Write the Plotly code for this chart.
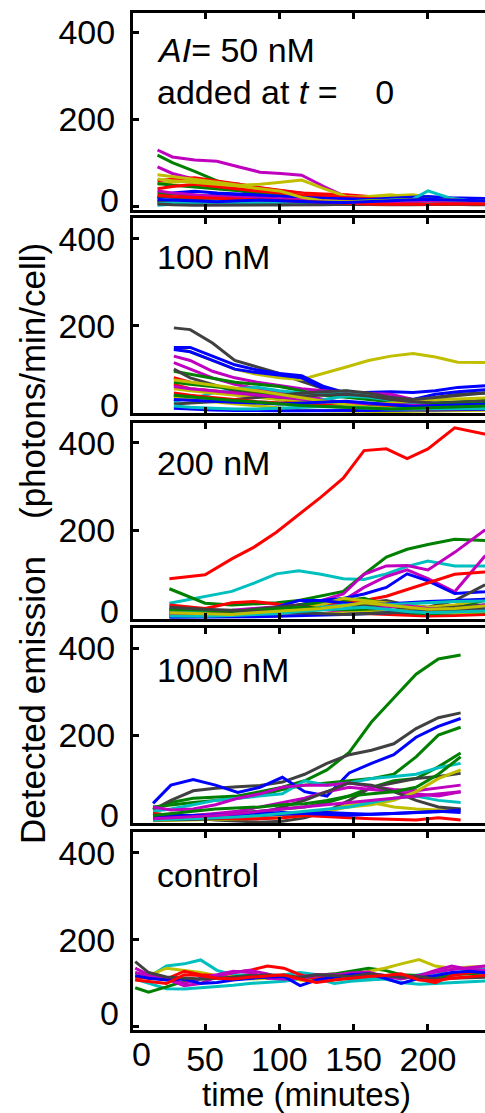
import plotly.graph_objects as go

# ---- time points (minutes) for each condition ----
t_50 = [18, 28, 43, 58, 73, 87, 101, 115, 130, 145, 160, 175, 190, 200, 215, 230, 245]
t_100 = [29, 40, 55, 70, 85, 100, 115, 130, 145, 160, 175, 190, 205, 220, 235, 250]
t_200 = [26, 50, 68, 83, 98, 113, 128, 143, 157, 172, 186, 200, 218, 238, 255]
t_1000 = [15, 27, 42, 57, 72, 87, 102, 117, 132, 147, 162, 177, 192, 207, 222]
t_ctrl = [3, 12, 24, 36, 47, 58, 69, 80, 92, 103, 114, 125, 137, 148, 160, 171, 182,
          194, 205, 216, 228, 240, 252]

# ---- per-cell colour codes (MATLAB-style colour order) ----
colors_50 = ["m", "g", "m", "r", "y", "y", "g", "r", "b", "b", "k", "k", "c", "c", "k",
             "g", "m", "y", "r", "b"]
cells_50 = [
    [129, 113, 106, 103, 90, 78, 75, 71, 45, 21, 22, 20, 24, 20, 18, 15, 14],
    [117, 100, 80, 58, 38, 20, 12, 15, 18, 20, 15, 13, 16, 18, 15, 12, 10],
    [90, 75, 62, 55, 50, 42, 35, 30, 22, 18, 14, 12, 15, 14, 12, 10, 9],
    [58, 62, 65, 58, 50, 42, 36, 30, 28, 26, 22, 18, 14, 14, 12, 10, 9],
    [72, 68, 62, 55, 48, 50, 55, 60, 40, 22, 20, 24, 26, 20, 16, 14, 12],
    [50, 55, 58, 52, 45, 38, 30, 25, 20, 18, 22, 26, 20, 15, 14, 12, 10],
    [52, 48, 44, 40, 35, 30, 25, 22, 18, 15, 14, 16, 18, 20, 17, 14, 12],
    [40, 45, 50, 44, 38, 34, 30, 25, 22, 20, 18, 15, 12, 10, 9, 8, 8],
    [18, 30, 34, 30, 28, 25, 22, 20, 18, 16, 15, 18, 20, 22, 19, 18, 17],
    [8, 12, 20, 26, 24, 22, 15, 12, 12, 14, 14, 16, 18, 20, 15, 14, 14],
    [22, 20, 16, 14, 12, 10, 9, 8, 8, 8, 9, 10, 12, 14, 13, 12, 10],
    [12, 10, 8, 6, 5, 5, 4, 4, 4, 5, 6, 6, 8, 10, 9, 8, 8],
    [6, 8, 10, 12, 10, 8, 7, 6, 8, 10, 12, 14, 16, 35, 18, 12, 8],
    [2, 4, 5, 6, 5, 4, 3, 4, 5, 6, 5, 4, 4, 6, 5, 4, 4],
    [5, 3, 2, 2, 3, 3, 2, 2, 3, 4, 3, 3, 3, 4, 4, 3, 3],
    [30, 28, 25, 22, 18, 15, 14, 12, 10, 10, 12, 14, 15, 16, 14, 12, 10],
    [35, 30, 26, 22, 20, 18, 16, 14, 12, 10, 9, 8, 10, 12, 10, 9, 8],
    [62, 58, 54, 50, 46, 40, 34, 20, 12, 10, 12, 14, 15, 16, 14, 12, 11],
    [25, 22, 20, 18, 16, 14, 12, 10, 8, 6, 5, 4, 3, 4, 5, 5, 5],
    [15, 14, 12, 10, 12, 14, 12, 10, 9, 8, 10, 12, 14, 16, 14, 12, 12],
]

colors_100 = ["k", "y", "b", "b", "m", "m", "g", "r", "r", "c", "c", "y", "y", "k", "k",
              "g", "b", "m", "r", "y", "c", "b", "g"]
cells_100 = [
    [195, 191, 160, 120, 105, 90, 72, 55, 45, 38, 30, 25, 35, 42, 46, 48],
    [148, 140, 120, 100, 88, 80, 76, 90, 105, 120, 130, 136, 128, 116, 115, 115],
    [150, 150, 130, 110, 98, 90, 85, 60, 45, 46, 48, 46, 50, 58, 62, 64],
    [145, 140, 120, 100, 92, 86, 80, 55, 40, 38, 36, 30, 42, 48, 52, 55],
    [130, 120, 95, 80, 70, 62, 55, 50, 46, 44, 42, 30, 20, 18, 20, 22],
    [115, 100, 80, 65, 55, 48, 40, 30, 22, 18, 16, 14, 15, 16, 18, 20],
    [95, 88, 80, 70, 65, 60, 50, 40, 35, 30, 25, 20, 22, 25, 28, 30],
    [80, 70, 62, 55, 45, 38, 30, 25, 20, 16, 14, 12, 14, 16, 18, 18],
    [65, 55, 50, 45, 40, 30, 22, 15, 12, 10, 8, 8, 10, 12, 12, 12],
    [40, 30, 45, 55, 58, 50, 45, 42, 50, 40, 30, 20, 15, 16, 18, 18],
    [25, 35, 30, 28, 25, 22, 20, 30, 38, 35, 28, 22, 18, 20, 22, 22],
    [55, 50, 45, 40, 35, 30, 28, 24, 20, 18, 22, 28, 30, 32, 34, 35],
    [35, 30, 25, 20, 15, 10, 6, 4, 3, 2, 2, 3, 4, 5, 6, 6],
    [100, 80, 65, 50, 40, 35, 38, 40, 42, 38, 30, 25, 22, 24, 26, 28],
    [20, 22, 25, 30, 35, 40, 45, 48, 50, 45, 35, 30, 35, 40, 44, 46],
    [70, 65, 60, 55, 48, 40, 32, 26, 22, 20, 18, 16, 18, 20, 22, 22],
    [10, 8, 6, 5, 4, 4, 4, 5, 5, 5, 6, 6, 6, 7, 8, 8],
    [60, 55, 50, 45, 40, 35, 30, 26, 22, 20, 18, 16, 15, 14, 14, 14],
    [45, 40, 35, 30, 25, 22, 20, 18, 15, 12, 10, 8, 8, 9, 10, 10],
    [75, 70, 64, 58, 50, 42, 34, 26, 18, 12, 10, 10, 12, 14, 15, 16],
    [15, 12, 10, 8, 8, 10, 12, 14, 12, 10, 8, 8, 9, 10, 10, 10],
    [30, 28, 26, 24, 22, 20, 22, 24, 26, 22, 18, 14, 16, 18, 20, 20],
    [40, 36, 32, 28, 24, 20, 16, 14, 12, 10, 8, 10, 12, 14, 16, 16],
]

colors_200 = ["r", "c", "g", "m", "m", "b", "k", "r", "g", "y", "b", "c", "k", "r", "m",
              "g", "y", "b", "k", "c", "y"]
cells_200 = [
    [90, 99, 135, 162, 196, 236, 276, 319, 382, 386, 364, 386, 434, 420, 415],
    [34, 49, 61, 80, 101, 108, 100, 90, 88, 101, 118, 130, 119, 119, 119],
    [67, 34, 30, 32, 35, 40, 50, 61, 100, 139, 157, 168, 180, 177, 175],
    [20, 15, 18, 22, 25, 30, 40, 55, 100, 119, 120, 110, 150, 200, 215],
    [10, 8, 10, 12, 14, 18, 25, 40, 70, 95, 110, 90, 60, 140, 180],
    [10, 8, 10, 12, 20, 30, 40, 45, 55, 70, 101, 85, 56, 60, 65],
    [5, 5, 6, 8, 12, 18, 25, 30, 35, 40, 30, 25, 40, 75, 92],
    [30, 22, 35, 38, 32, 25, 30, 35, 40, 50, 65, 80, 100, 105, 108],
    [15, 12, 10, 15, 20, 30, 35, 40, 45, 30, 20, 18, 25, 40, 50],
    [8, 6, 5, 6, 10, 20, 30, 45, 40, 35, 30, 25, 30, 45, 55],
    [12, 10, 12, 15, 25, 40, 40, 35, 30, 32, 35, 38, 40, 42, 45],
    [18, 15, 12, 10, 10, 12, 25, 30, 28, 30, 32, 35, 38, 40, 40],
    [12, 10, 15, 20, 25, 30, 20, 18, 30, 28, 22, 20, 25, 30, 35],
    [8, 6, 5, 4, 5, 8, 10, 12, 10, 8, 6, 5, 6, 8, 10],
    [5, 4, 3, 4, 6, 8, 10, 15, 20, 25, 28, 22, 18, 30, 40],
    [20, 18, 16, 18, 22, 25, 22, 20, 18, 15, 12, 10, 12, 14, 16],
    [3, 3, 4, 5, 6, 8, 10, 12, 14, 15, 16, 14, 12, 15, 18],
    [2, 2, 3, 3, 4, 5, 6, 8, 10, 12, 14, 16, 20, 25, 28],
    [25, 20, 18, 16, 14, 12, 10, 8, 10, 12, 14, 16, 18, 20, 22],
    [5, 4, 6, 8, 10, 15, 18, 22, 25, 20, 15, 12, 14, 16, 18],
    [12, 10, 8, 12, 15, 18, 22, 28, 35, 30, 25, 20, 22, 28, 32],
]

colors_1000 = ["g", "k", "b", "g", "g", "c", "k", "m", "m", "y", "y", "k", "r", "b", "b",
               "g", "c", "m"]
cells_1000 = [
    [30, 45, 55, 58, 60, 70, 80, 95, 120, 160, 230, 285, 340, 375, 384],
    [28, 50, 72, 78, 81, 84, 92, 110, 135, 155, 165, 180, 215, 240, 251],
    [43, 85, 98, 85, 68, 80, 103, 70, 60, 113, 135, 155, 195, 220, 238],
    [35, 40, 45, 50, 55, 62, 75, 85, 90, 95, 100, 110, 150, 200, 218],
    [10, 12, 15, 18, 22, 25, 30, 35, 45, 60, 80, 95, 100, 127, 159],
    [25, 30, 40, 50, 55, 60, 65, 95, 85, 90, 100, 105, 110, 125, 135],
    [20, 15, 10, 5, 2, 0, 2, 10, 25, 50, 80, 90, 100, 105, 112],
    [35, 28, 30, 40, 55, 65, 80, 85, 85, 90, 82, 75, 72, 78, 85],
    [10, 12, 15, 20, 25, 35, 45, 55, 70, 80, 75, 70, 65, 60, 70],
    [5, 6, 8, 10, 12, 15, 18, 20, 25, 35, 40, 50, 70, 100, 120],
    [3, 4, 5, 5, 6, 8, 10, 15, 25, 40, 45, 35, 30, 28, 30],
    [5, 5, 6, 8, 10, 20, 35, 50, 70, 90, 85, 70, 50, 35, 30],
    [20, 15, 12, 10, 8, 8, 10, 15, 12, 10, 8, 6, 5, 10, 5],
    [10, 12, 14, 16, 18, 20, 22, 20, 18, 16, 18, 20, 22, 24, 28],
    [15, 15, 15, 15, 15, 16, 18, 20, 22, 20, 18, 20, 22, 25, 22],
    [15, 20, 25, 30, 32, 35, 40, 42, 50, 60, 65, 70, 80, 110, 150],
    [5, 6, 8, 10, 12, 15, 20, 25, 30, 35, 45, 55, 60, 50, 45],
    [8, 10, 12, 15, 20, 25, 30, 35, 40, 45, 50, 55, 60, 65, 70],
]

colors_ctrl = ["c", "c", "g", "y", "r", "m", "m", "b", "k", "r"]
cells_ctrl = [
    [110, 100, 88, 87, 90, 92, 96, 100, 102, 105, 110, 112, 100, 105, 108, 110, 102, 98, 100, 102, 104, 106, 108],
    [125, 115, 140, 145, 154, 130, 120, 118, 112, 120, 125, 120, 115, 110, 112, 118, 112, 120, 125, 122, 130, 135, 132],
    [90, 80, 92, 105, 110, 112, 115, 118, 120, 112, 115, 118, 122, 128, 135, 130, 120, 118, 115, 120, 122, 124, 120],
    [120, 118, 135, 130, 125, 118, 115, 110, 112, 118, 108, 104, 110, 120, 128, 135, 145, 155, 140, 135, 138, 140, 142],
    [115, 112, 110, 128, 120, 118, 125, 130, 140, 135, 120, 110, 118, 122, 120, 115, 118, 110, 102, 118, 125, 130, 135],
    [135, 120, 110, 95, 100, 115, 125, 130, 122, 110, 112, 118, 120, 122, 124, 118, 110, 118, 130, 140, 132, 130, 135],
    [125, 118, 112, 100, 112, 120, 128, 125, 112, 110, 115, 120, 118, 124, 126, 114, 112, 118, 126, 132, 136, 140, 145],
    [118, 112, 108, 110, 100, 102, 108, 112, 115, 116, 95, 108, 115, 120, 122, 112, 100, 112, 118, 125, 128, 124, 120],
    [150, 125, 115, 112, 110, 112, 115, 118, 120, 118, 114, 120, 118, 116, 122, 118, 114, 116, 110, 112, 114, 115, 116],
    [108, 104, 100, 120, 118, 112, 110, 114, 118, 120, 110, 102, 108, 112, 116, 118, 122, 108, 106, 112, 116, 120, 122],
]

panel_labels = ["<i>AI</i>= 50 nM", "100 nM", "200 nM", "1000 nM", "control"]
y_ticks = [0, 200, 400]
y_tick_labels = ["", "200", "400"]   # the zero label is placed separately, lifted
x_ticks = [50, 100, 150, 200]
x_tick_labels = ["50", "100", "150", "200"]

PALETTE = {
    "b": "#0000FF", "g": "#008000", "r": "#FF0000", "c": "#00BFBF",
    "m": "#BF00BF", "y": "#BFBF00", "k": "#404040",
}

W, H = 485, 1113
LEFT = 133
FONT = dict(family="Liberation Sans, Arial, sans-serif", size=34, color="black")

# panel frames in pixels (top, bottom) and the y-range each frame spans
frames = [(13, 210), (218, 413), (423, 619), (628, 823), (832, 1030)]
y_ranges = [[-9, 444], [-1, 448], [-2, 445], [-2, 446], [-7, 448]]
x_range = [1.5, 238.4]
# vertical centre (px) of each panel's "0" label
zero_label_y = [200, 405, 611, 815, 1013]

panels = [
    (t_50, cells_50, colors_50),
    (t_100, cells_100, colors_100),
    (t_200, cells_200, colors_200),
    (t_1000, cells_1000, colors_1000),
    (t_ctrl, cells_ctrl, colors_ctrl),
]


def px_x(px):
    return (px - LEFT) / (W - LEFT)


def px_y(py):
    return 1 - py / H


fig = go.Figure()
layout = dict(
    width=W, height=H,
    margin=dict(l=LEFT, r=0, t=0, b=0, autoexpand=False),
    paper_bgcolor="white", plot_bgcolor="white",
    showlegend=False, font=FONT,
)

for i, (times, cells, cols) in enumerate(panels):
    n = i + 1
    xa = "x" if n == 1 else f"x{n}"
    ya = "y" if n == 1 else f"y{n}"
    for vals, c in zip(cells, cols):
        fig.add_trace(go.Scatter(
            x=times, y=vals, mode="lines", xaxis=xa, yaxis=ya,
            line=dict(color=PALETTE[c], width=3), hoverinfo="skip",
        ))
    top, bot = frames[i]
    last = n == len(panels)
    layout["xaxis" if n == 1 else f"xaxis{n}"] = dict(
        domain=[0, 1], anchor=ya, range=x_range,
        showline=True, linecolor="black", linewidth=3, mirror="ticks",
        ticks="inside", ticklen=6, tickwidth=3, tickcolor="black",
        tickvals=x_ticks, ticktext=x_tick_labels, showticklabels=last,
        showgrid=False, zeroline=False, tickfont=FONT, ticklabelstandoff=-3,
    )
    layout["yaxis" if n == 1 else f"yaxis{n}"] = dict(
        domain=[px_y(bot), px_y(top)], anchor=xa, range=y_ranges[i],
        showline=True, linecolor="black", linewidth=3,
        ticks="inside", ticklen=6, tickwidth=3, tickcolor="black",
        tickvals=y_ticks, ticktext=y_tick_labels,
        showgrid=False, zeroline=False, tickfont=FONT,
        ticklabelstandoff=8,
    )

fig.update_layout(**layout)

ann = []
# lifted "0" labels on every y-axis
for py in zero_label_y:
    ann.append(dict(text="0", xref="paper", yref="paper", x=px_x(121), y=px_y(py),
                    xanchor="right", yanchor="middle", showarrow=False, font=FONT))
# panel captions
label_y = [50, 257, 463, 670, 875]
for lbl, py in zip(panel_labels, label_y):
    ann.append(dict(text=lbl, xref="paper", yref="paper", x=px_x(155), y=px_y(py),
                    xanchor="left", yanchor="middle", showarrow=False, font=FONT))
ann.append(dict(text="added at <i>t</i> =\u00a0\u00a0\u00a0\u00a00", xref="paper",
                yref="paper", x=px_x(155), y=px_y(92), xanchor="left",
                yanchor="middle", showarrow=False, font=FONT))
# x-axis: zero label and title
ann.append(dict(text="0", xref="paper", yref="paper", x=px_x(141), y=px_y(1054),
                xanchor="center", yanchor="middle", showarrow=False, font=FONT))
ann.append(dict(text="time (minutes)", xref="paper", yref="paper", x=px_x(306),
                y=px_y(1094), xanchor="center", yanchor="middle", showarrow=False,
                font=dict(FONT, size=33)))
# y-axis title in two parts
TITLE_FONT = dict(FONT, size=35)
ann.append(dict(text="Detected emission", xref="paper", yref="paper", x=px_x(32),
                y=px_y(700), xanchor="center", yanchor="middle", textangle=-90,
                showarrow=False, font=TITLE_FONT))
ann.append(dict(text="(photons/min/cell)", xref="paper", yref="paper", x=px_x(32),
                y=px_y(381), xanchor="center", yanchor="middle", textangle=-90,
                showarrow=False, font=TITLE_FONT))
fig.update_layout(annotations=ann)

fig.write_html("out.html")
